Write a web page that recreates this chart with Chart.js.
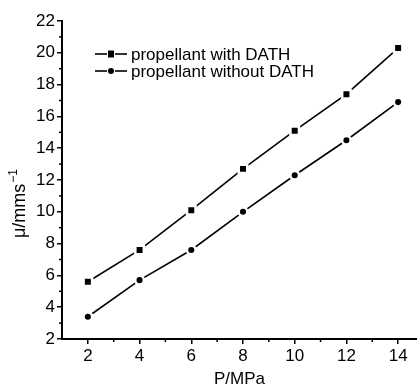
<!DOCTYPE html>
<html>
<head>
<meta charset="utf-8">
<script src="https://cdn.jsdelivr.net/npm/chart.js@4.4.0/dist/chart.umd.min.js"></script>
<style>
  html, body { margin: 0; padding: 0; background: #fff; }
  #wrap { width: 417px; height: 390px; }
</style>
</head>
<body>
<div id="wrap"><canvas id="myChart"></canvas></div>
<script>
var pressure = [2, 4, 6, 8, 10, 12, 14];
var withDath = [5.6, 7.6, 10.1, 12.7, 15.1, 17.4, 20.3];
var withoutDath = [3.4, 5.7, 7.6, 10.0, 12.3, 14.5, 16.9];
var seriesNames = ["propellant with DATH", "propellant without DATH"];
var xTicks = [1, 2, 3, 4, 5, 6, 7, 8, 9, 10, 11, 12, 13, 14];

var font = "Liberation Sans, Arial, sans-serif";

function toPoints(xs, ys) {
  return xs.map(function (x, i) { return { x: x, y: ys[i] }; });
}

// minor ticks (odd values) drawn shorter than the major ones
var minorTicks = {
  id: 'minorTicks',
  afterDraw: function (chart) {
    var c = chart.ctx, xs = chart.scales.x, ys = chart.scales.y;
    c.save();
    c.strokeStyle = '#000';
    c.lineWidth = 1.5;
    for (var v = 3; v <= 21; v += 2) {
      var py = ys.getPixelForValue(v);
      c.beginPath(); c.moveTo(ys.right - 3, py); c.lineTo(ys.right, py); c.stroke();
    }
    for (var u = 3; u <= 13; u += 2) {
      var px = xs.getPixelForValue(u);
      c.beginPath(); c.moveTo(px, xs.top); c.lineTo(px, xs.top + 3); c.stroke();
    }
    c.restore();
  }
};

// legend inside the plot, top left, plus the rotated y title
var innerLegend = {
  id: 'innerLegend',
  afterDraw: function (chart) {
    var c = chart.ctx;
    var rows = [54, 71];
    c.save();
    c.font = '17px ' + font;
    c.fillStyle = '#000';
    c.strokeStyle = '#000';
    c.textBaseline = 'middle';
    rows.forEach(function (y, i) {
      c.lineWidth = 1.6;
      c.beginPath(); c.moveTo(95, y); c.lineTo(107, y); c.stroke();
      c.beginPath(); c.moveTo(115, y); c.lineTo(127, y); c.stroke();
      if (i === 0) {
        c.fillRect(108, y - 3.5, 6, 7);
      } else {
        c.beginPath(); c.arc(111, y, 3, 0, Math.PI * 2); c.fill();
      }
      c.fillText(seriesNames[i], 131, y + 1);
    });
    c.restore();

    // y title: μ/mms with superscript -1
    c.save();
    c.translate(25, 238);
    c.rotate(-Math.PI / 2);
    c.fillStyle = '#000';
    c.textBaseline = 'alphabetic';
    c.font = '18px ' + font;
    c.fillText('μ/mms', 0, 0);
    var w = c.measureText('μ/mms').width;
    c.font = '12px ' + font;
    c.fillText('−1', w + 1, -8);
    c.restore();
  }
};

var ctx = document.getElementById('myChart');

var chartData = {
  datasets: [
    {
      label: seriesNames[0],
      data: toPoints(pressure, withDath),
      borderColor: '#000',
      backgroundColor: '#000',
      borderWidth: 1.6,
      pointStyle: 'rect',
      pointRadius: 6,
      pointBorderColor: '#fff',
      pointBorderWidth: 2.5,
      clip: false
    },
    {
      label: seriesNames[1],
      data: toPoints(pressure, withoutDath),
      borderColor: '#000',
      backgroundColor: '#000',
      borderWidth: 1.6,
      pointStyle: 'circle',
      pointRadius: 4.3,
      pointBorderColor: '#fff',
      pointBorderWidth: 2.5,
      clip: false
    }
  ]
};

var chartOptions = {
  responsive: true,
  maintainAspectRatio: false,
  animation: false,
  layout: { autoPadding: false, padding: { top: 21, right: 0, left: 0, bottom: 0 } },
  plugins: {
    legend: { display: false },
    tooltip: { enabled: false }
  },
  scales: {
    x: {
      type: 'linear',
      min: 1,
      max: 14.73,
      afterFit: function (scale) { scale.height = 51; },
      afterBuildTicks: function (scale) {
        scale.ticks = xTicks.map(function (v) { return { value: v }; });
      },
      border: { display: true, color: '#000', width: 2 },
      grid: {
        drawOnChartArea: false,
        tickLength: 5,
        lineWidth: 1.5,
        color: function (c) { return (c.tick && c.tick.value % 2 === 0) ? '#000' : 'rgba(0,0,0,0)'; }
      },
      ticks: {
        color: '#000',
        font: { family: font, size: 17 },
        padding: 2,
        autoSkip: false,
        maxRotation: 0,
        callback: function (v) { return (v % 2 === 0) ? v : ''; }
      },
      title: {
        display: true,
        text: 'P/MPa',
        color: '#000',
        font: { family: font, size: 17 },
        padding: { top: 0, bottom: 0 }
      }
    },
    y: {
      min: 2,
      max: 22,
      afterFit: function (scale) { scale.width = 62; },
      border: { display: true, color: '#000', width: 2 },
      grid: {
        drawOnChartArea: false,
        tickLength: 5,
        lineWidth: 1.5,
        color: function (c) { return (c.tick && c.tick.value % 2 === 0) ? '#000' : 'rgba(0,0,0,0)'; }
      },
      ticks: {
        stepSize: 1,
        color: '#000',
        font: { family: font, size: 17 },
        padding: 2,
        autoSkip: false,
        callback: function (v) { return (v % 2 === 0) ? v : ''; }
      }
    }
  }
};

var lineChart = new Chart(ctx, {
  type: 'scatter',
  data: chartData,
  options: chartOptions,
  plugins: [minorTicks, innerLegend]
});
// connect the points with lines
lineChart.data.datasets.forEach(function (d) { d.showLine = true; });
lineChart.update();
</script>
</body>
</html>
